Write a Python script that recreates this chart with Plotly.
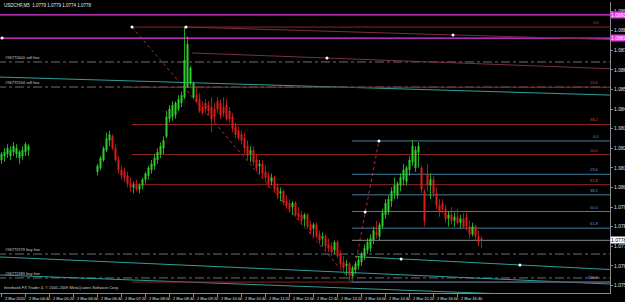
import plotly.graph_objects as go
import pandas as pd

TITLE = "USDCHF,M5  1.0779 1.0779 1.0774 1.0778"
COPYRIGHT = "Interbank FX Trader 4, \u00a9 2001-2009 MetaQuotes Software Corp."
START = pd.Timestamp("2010-03-02 04:00")
BAR_MIN = 5

# bar indices (5-minute bars after 2 Mar 04:00)
bars = list(range(0, 10)) + list(range(32, 161))

open_pips = [10819, 10821, 10822, 10821, 10823, 10822, 10820, 10821, 10823, 10824,
             10813, 10815, 10819, 10824, 10829, 10831, 10825, 10819, 10814, 10813,
             10811, 10807, 10805, 10806, 10804, 10806, 10809, 10811, 10814, 10816,
             10819, 10822, 10825, 10831, 10840, 10841, 10842, 10845, 10848, 10851,
             10856, 10858, 10851, 10852, 10850, 10846, 10848, 10847, 10846, 10845,
             10849, 10848, 10846, 10847, 10844, 10841, 10836, 10834, 10832, 10830,
             10826, 10822, 10824, 10819, 10816, 10817, 10813, 10811, 10808, 10810,
             10805, 10802, 10803, 10798, 10797, 10795, 10797, 10792, 10791, 10789,
             10791, 10786, 10784, 10786, 10781, 10779, 10780, 10776, 10775, 10773,
             10777, 10771, 10767, 10765, 10766, 10760, 10763, 10765, 10767, 10770,
             10773, 10774, 10778, 10782, 10780, 10785, 10791, 10793, 10798, 10802,
             10801, 10806, 10809, 10808, 10814, 10818, 10815, 10823, 10815, 10803,
             10812, 10806, 10809, 10802, 10796, 10797, 10794, 10789, 10791, 10788,
             10790, 10787, 10789, 10790, 10785, 10781, 10785, 10780, 10779]
high_pips = [10823, 10825, 10827, 10826, 10828, 10827, 10824, 10826, 10828, 10827,
             10817, 10821, 10826, 10833, 10834, 10832, 10827, 10821, 10816, 10815,
             10813, 10810, 10808, 10809, 10807, 10810, 10813, 10816, 10819, 10822,
             10825, 10828, 10831, 10844, 10847, 10849, 10849, 10852, 10854, 10887,
             10882, 10867, 10859, 10856, 10853, 10849, 10850, 10849, 10851, 10848,
             10851, 10850, 10851, 10850, 10846, 10843, 10838, 10836, 10834, 10833,
             10829, 10826, 10826, 10822, 10819, 10819, 10816, 10813, 10812, 10811,
             10807, 10805, 10804, 10801, 10799, 10798, 10798, 10795, 10793, 10792,
             10792, 10788, 10787, 10787, 10783, 10782, 10781, 10779, 10777, 10778,
             10778, 10773, 10770, 10768, 10767, 10765, 10767, 10770, 10772, 10776,
             10779, 10781, 10785, 10788, 10787, 10794, 10799, 10801, 10805, 10810,
             10808, 10812, 10817, 10816, 10821, 10829, 10826, 10828, 10816, 10804,
             10817, 10812, 10811, 10805, 10799, 10799, 10796, 10793, 10795, 10792,
             10794, 10791, 10792, 10792, 10788, 10787, 10786, 10783, 10780]
low_pips = [10817, 10818, 10820, 10819, 10821, 10820, 10817, 10819, 10821, 10821,
            10811, 10814, 10818, 10823, 10826, 10824, 10818, 10812, 10809, 10808,
            10805, 10803, 10802, 10803, 10802, 10804, 10807, 10809, 10812, 10814,
            10817, 10820, 10822, 10830, 10838, 10839, 10840, 10844, 10846, 10850,
            10856, 10857, 10850, 10848, 10843, 10842, 10843, 10842, 10833, 10838,
            10843, 10840, 10841, 10839, 10838, 10833, 10830, 10829, 10827, 10822,
            10819, 10818, 10816, 10813, 10812, 10810, 10808, 10805, 10806, 10803,
            10799, 10798, 10796, 10794, 10792, 10791, 10790, 10788, 10786, 10785,
            10784, 10781, 10780, 10779, 10776, 10775, 10773, 10772, 10770, 10771,
            10769, 10764, 10762, 10760, 10757, 10759, 10761, 10763, 10765, 10768,
            10771, 10772, 10776, 10779, 10778, 10784, 10789, 10791, 10795, 10799,
            10799, 10803, 10806, 10806, 10811, 10816, 10813, 10815, 10802, 10785,
            10803, 10799, 10800, 10794, 10790, 10792, 10787, 10785, 10786, 10785,
            10786, 10784, 10784, 10783, 10779, 10780, 10778, 10775, 10774]
close_pips = [10822, 10823, 10825, 10824, 10826, 10825, 10823, 10824, 10827, 10826,
              10816, 10820, 10825, 10830, 10832, 10825, 10819, 10814, 10811, 10810,
              10807, 10805, 10806, 10804, 10806, 10809, 10812, 10815, 10817, 10820,
              10823, 10826, 10829, 10841, 10845, 10847, 10848, 10850, 10852, 10870,
              10878, 10866, 10858, 10849, 10844, 10843, 10845, 10844, 10840, 10841,
              10845, 10842, 10843, 10840, 10840, 10835, 10832, 10830, 10829, 10825,
              10821, 10824, 10818, 10815, 10817, 10812, 10810, 10807, 10810, 10804,
              10801, 10803, 10797, 10796, 10794, 10797, 10791, 10790, 10788, 10791,
              10785, 10783, 10786, 10780, 10778, 10780, 10775, 10774, 10772, 10777,
              10770, 10766, 10764, 10766, 10760, 10764, 10766, 10768, 10771, 10774,
              10777, 10779, 10783, 10781, 10786, 10792, 10797, 10799, 10803, 10806,
              10807, 10810, 10814, 10815, 10819, 10826, 10824, 10826, 10804, 10788,
              10806, 10809, 10802, 10796, 10793, 10794, 10789, 10791, 10788, 10790,
              10787, 10789, 10785, 10785, 10781, 10785, 10780, 10777, 10778]

price_ticks = [1.0755, 1.0765, 1.0775, 1.0785, 1.0795, 1.0805, 1.0815, 1.0825,
               1.0835, 1.0845, 1.0855, 1.0865, 1.0875, 1.0885, 1.0895]
time_labels = ["2 Mar 2010", "2 Mar 04:40", "2 Mar 05:20", "2 Mar 06:00", "2 Mar 06:40",
               "2 Mar 07:20", "2 Mar 08:00", "2 Mar 08:40", "2 Mar 09:20", "2 Mar 10:00",
               "2 Mar 10:40", "2 Mar 11:20", "2 Mar 12:00", "2 Mar 12:40", "2 Mar 13:20",
               "2 Mar 14:00", "2 Mar 14:40", "2 Mar 15:20", "2 Mar 16:00", "2 Mar 16:40"]
time_label_bars = [8 * k for k in range(20)]

# drawn objects (bar index, price)
fib_levels = [0.0, 23.6, 38.2, 50.0, 61.8, 100.0]
red_fib = dict(start=43.5, high=1.08868, low=1.07567)
blue_fib = dict(start=116.8, high=1.08287, low=1.07567)
red_diag = [(43.5, 1.08868), (116.8, 1.07567)]
blue_diag = [(116.8, 1.07567), (125.8, 1.08287)]
magenta_levels = [1.0893, 1.08812]
magenta_tags = ["1.0893", "1.0881"]
order_lines = [(1.0869, "#96771600 sell line"), (1.08562, "#96771594 sell line"),
               (1.07710, "#96771979 buy line"), (1.07588, "#96771989 buy line")]
trend_pink = [[(61.5, 1.08868), (150.5, 1.08828)], [(63.5, 1.08736), (108.5, 1.08710)]]
trend_teal = [[(-0.5, 1.08613), (202.8, 1.08521)],
              [(-0.5, 1.07695), (202.8, 1.07557)],
              [(-0.5, 1.07603), (202.8, 1.07486)],
              [(117.8, 1.07697), (202.8, 1.07631)]]
white_dots = [(43.5, 1.08868), (61.5, 1.08868), (108.5, 1.08710), (150.5, 1.08828),
              (125.8, 1.08287), (121.2, 1.07924), (133.2, 1.07685), (172.8, 1.07654),
              (0.2, 1.08812)]
bid_price = 1.0778

X_MIN, X_MAX = -0.5, 202.83
Y_MIN, Y_MAX = 1.075112, 1.089959

GREEN = "#2fcf2f"
RED = "#d81e1e"
FIB_RED = "#8e2424"
FIB_RED_TXT = "#c8502a"
FIB_BLUE = "#3f7f9f"
FIB_BLUE_TXT = "#5f9fcf"
TEAL = "#2f9f9a"
MAGENTA = "#e43ce4"
PINK = "#7a2f48"
GRAY = "#8a8a8a"
FONT = "Liberation Sans"


def t(i):
    return START + pd.Timedelta(minutes=BAR_MIN * i)


fig = go.Figure()
fig.add_trace(go.Candlestick(
    x=[t(i) for i in bars],
    open=[v / 10000 for v in open_pips], high=[v / 10000 for v in high_pips],
    low=[v / 10000 for v in low_pips], close=[v / 10000 for v in close_pips],
    increasing=dict(line=dict(color=GREEN, width=0.8), fillcolor=GREEN),
    decreasing=dict(line=dict(color=RED, width=0.8), fillcolor=RED),
    whiskerwidth=0, showlegend=False, hoverinfo="skip"))

shapes = []
annotations = []


def seg(p0, p1, color, width=1, dash="solid", layer="below"):
    shapes.append(dict(type="line", xref="x", yref="y", x0=t(p0[0]), y0=p0[1],
                       x1=t(p1[0]), y1=p1[1], line=dict(color=color, width=width, dash=dash),
                       layer=layer))


def ray(p0, p1, color, width=1):
    slope = (p1[1] - p0[1]) / (p1[0] - p0[0])
    end = (X_MAX + 1, p0[1] + slope * (X_MAX + 1 - p0[0]))
    seg(p0, end, color, width)


# magenta levels
for lvl, tag in zip(magenta_levels, magenta_tags):
    seg((X_MIN - 1, lvl), (X_MAX + 1, lvl), MAGENTA, 1.3)
    annotations.append(dict(xref="paper", x=1, xanchor="left", yref="y", y=lvl,
                            text=tag, showarrow=False, bgcolor=MAGENTA, borderpad=0,
                            font=dict(size=5, color="white", family=FONT)))

# order lines
for lvl, txt in order_lines:
    seg((X_MIN - 1, lvl), (X_MAX + 1, lvl), GRAY, 0.8, "dashdot")
    annotations.append(dict(xref="paper", x=0.005, xanchor="left", yref="y", y=lvl,
                            yanchor="bottom", text=txt, showarrow=False,
                            font=dict(size=4, color="#cfcfcf", family=FONT)))

# trend lines
for a, b in trend_pink:
    ray(a, b, PINK)
for a, b in trend_teal:
    seg(a, b, TEAL, 1)

# fibonacci
for fib, col, tcol in [(red_fib, FIB_RED, FIB_RED_TXT), (blue_fib, FIB_BLUE, FIB_BLUE_TXT)]:
    rng = fib["high"] - fib["low"]
    for r in fib_levels:
        p = fib["high"] - r / 100 * rng
        seg((fib["start"], p), (X_MAX + 1, p), col, 1)
        annotations.append(dict(xref="paper", x=0.985, xanchor="right", yref="y", y=p,
                                yanchor="bottom", text=f"{r:.1f}", showarrow=False,
                                font=dict(size=4, color=tcol, family=FONT)))
seg(*red_diag, "#b03030", 1, "dot")
seg(*blue_diag, "#b03030", 1, "dot")

# bid line
seg((blue_fib["start"], bid_price), (X_MAX + 1, bid_price), GRAY, 1)
annotations.append(dict(xref="paper", x=1, xanchor="left", yref="y", y=bid_price,
                        text=f"{bid_price:.4f}", showarrow=False, bgcolor="white",
                        borderpad=0, font=dict(size=5, color="black", family=FONT)))

fig.add_trace(go.Scatter(x=[t(p[0]) for p in white_dots], y=[p[1] for p in white_dots],
                         mode="markers", marker=dict(color="white", size=3),
                         showlegend=False, hoverinfo="skip"))

# time labels
for b, lab in zip(time_label_bars, time_labels):
    annotations.append(dict(xref="x", x=t(b), xanchor="left", xshift=1, yref="paper", y=0,
                            yanchor="top", yshift=-1, text=lab, showarrow=False,
                            font=dict(size=4, color="#e0e0e0", family=FONT)))

annotations.append(dict(xref="paper", x=0.004, xanchor="left", yref="paper", y=1,
                        yanchor="top", yshift=1, text=TITLE, showarrow=False,
                        font=dict(size=4.5, color="#e8e8e8", family=FONT)))
annotations.append(dict(xref="paper", x=0.004, xanchor="left", yref="paper", y=0,
                        yanchor="bottom", yshift=1, text=COPYRIGHT, showarrow=False,
                        font=dict(size=4, color="#d0d0d0", family=FONT)))

fig.update_layout(
    template="none", width=625, height=302,
    margin=dict(l=0, r=15, t=2, b=9, autoexpand=False),
    paper_bgcolor="black", plot_bgcolor="black", boxgap=0.45,
    shapes=shapes, annotations=annotations, showlegend=False,
    xaxis=dict(type="date", range=[t(X_MIN), t(X_MAX)], rangeslider=dict(visible=False),
               showgrid=False, zeroline=False, showline=True, linecolor=GRAY, linewidth=1,
               tickvals=[t(b) for b in time_label_bars], ticks="outside", ticklen=3,
               tickcolor=GRAY, showticklabels=False, automargin=False, fixedrange=True),
    yaxis=dict(side="right", range=[Y_MIN, Y_MAX], tickvals=price_ticks,
               tickformat=".4f", showgrid=False, zeroline=False, showline=True,
               linecolor=GRAY, linewidth=1, ticks="outside", ticklen=2, tickcolor=GRAY,
               tickfont=dict(size=5, color="#e0e0e0", family=FONT), automargin=False),
)

fig.write_html("out.html")
